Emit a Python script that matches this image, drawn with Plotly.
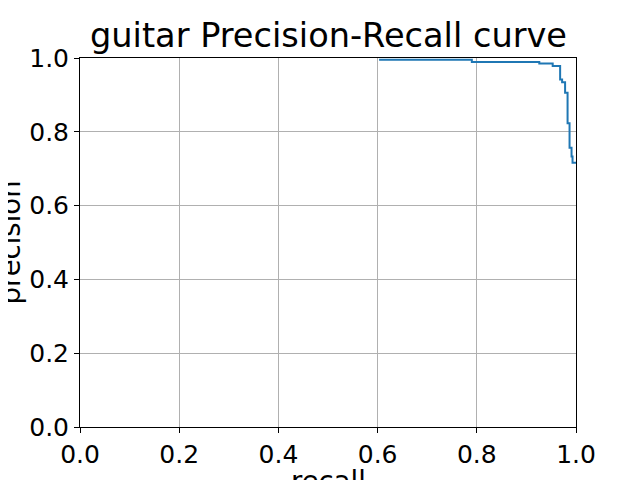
import plotly.graph_objects as go

recall = [0.603, 0.790, 0.926, 0.953, 0.968, 0.972, 0.978, 0.983, 0.987, 0.991, 0.993, 1.000]
precision = [0.995, 0.989, 0.985, 0.978, 0.942, 0.934, 0.906, 0.823, 0.757, 0.733, 0.716, 0.716]
ticks = [0.0, 0.2, 0.4, 0.6, 0.8, 1.0]
tick_text = ["0.0", "0.2", "0.4", "0.6", "0.8", "1.0"]

FONT = "DejaVu Sans"
TICK_FS = 25
LABEL_FS = 27.5
TITLE_FS = 33.6

fig = go.Figure()
fig.add_trace(go.Scatter(x=recall, y=precision, mode="lines", line_shape="hv",
                         line=dict(color="#1f77b4", width=2), showlegend=False))

axis_common = dict(range=[0, 1], tickvals=ticks, ticktext=tick_text, showgrid=True,
                   gridcolor="#b0b0b0", gridwidth=1, zeroline=False, showline=True,
                   linecolor="black", linewidth=1, mirror=True, ticks="outside",
                   ticklen=5, tickcolor="black", automargin=False,
                   tickfont=dict(family=FONT, size=TICK_FS, color="black"))

# page body has an 8px margin, so the figure is offset by (8, 8)
fig.update_layout(
    width=632, height=472,
    margin=dict(l=72, r=64, t=50, b=53, autoexpand=False),
    paper_bgcolor="white", plot_bgcolor="white",
    xaxis=axis_common,
    yaxis=axis_common,
    annotations=[
        dict(text="guitar Precision-Recall curve", x=0.5, y=1, xref="paper", yref="paper",
             yshift=1, xanchor="center", yanchor="bottom", showarrow=False,
             font=dict(family=FONT, size=TITLE_FS, color="black")),
        dict(text="recall", x=0.5, y=0, xref="paper", yref="paper", yshift=-36,
             xanchor="center", yanchor="top", showarrow=False,
             font=dict(family=FONT, size=LABEL_FS, color="black")),
        dict(text="precision", x=0, y=0.5, xref="paper", yref="paper", xshift=-71,
             xanchor="center", yanchor="middle", textangle=-90, showarrow=False,
             font=dict(family=FONT, size=LABEL_FS, color="black")),
    ],
)

fig.write_html("out.html")
